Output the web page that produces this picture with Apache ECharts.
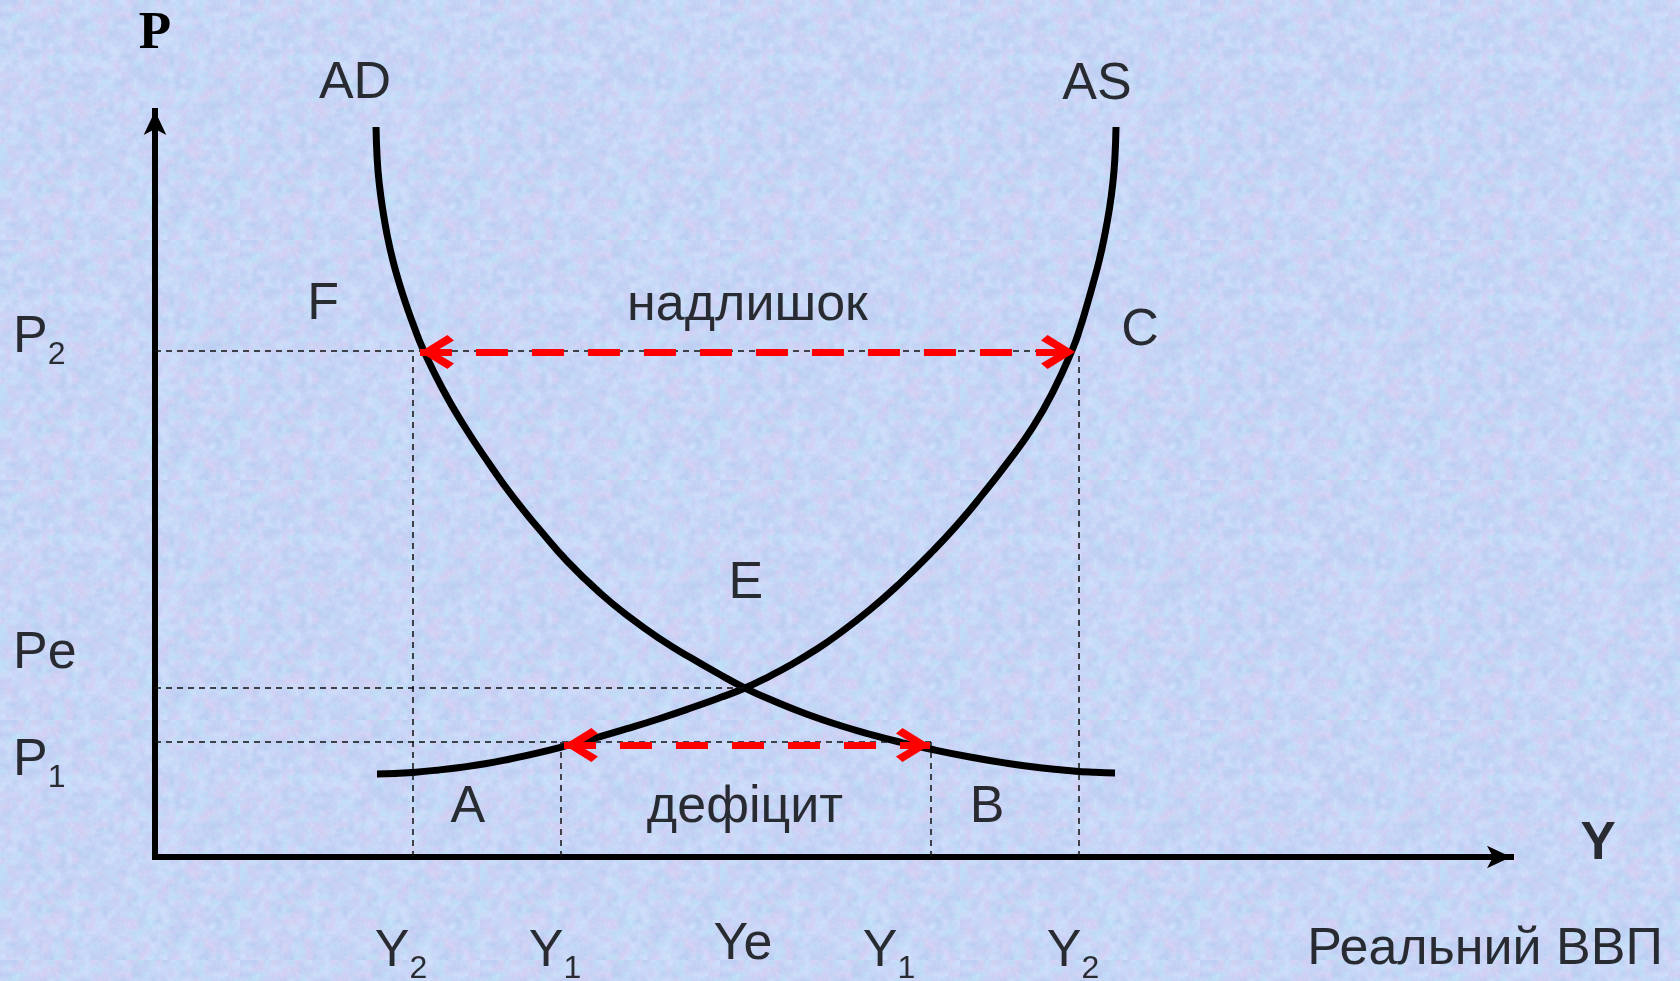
<!DOCTYPE html>
<html>
<head>
<meta charset="utf-8">
<title>AD - AS</title>
<script src="https://cdn.jsdelivr.net/npm/echarts@6/dist/echarts.min.js"></script>
<style>
html, body { margin: 0; padding: 0; }
#chart { width: 1680px; height: 981px; }
</style>
</head>
<body>
<div id="chart"></div>
<script>
// both axes run 0..100 (real GDP on x, price level on y)
const adX = [16.3, 16.39, 16.55, 16.8, 17.12, 17.53, 18.03, 18.58, 19.14, 19.76, 21.17, 22.71, 24.56, 26.4, 28.39, 30.38, 32.82, 35.03, 37.24, 39.45, 41.52, 43.51, 45.72, 48.08, 50.52, 52.95, 54.94, 57.15, 60.1, 62.83, 65.27, 67.7, 69.32, 70.8];
const adY = [97.86, 93.43, 90.08, 86.73, 83.38, 80.03, 76.81, 73.73, 70.91, 68.1, 62.87, 58.04, 52.95, 48.26, 43.83, 39.68, 35.39, 32.1, 29.25, 26.76, 24.6, 22.65, 20.84, 19.13, 17.63, 16.34, 15.4, 14.48, 13.4, 12.56, 11.96, 11.53, 11.35, 11.26];
const asX = [16.37, 17.7, 19.03, 20.8, 22.49, 24.34, 26.18, 28.17, 30.09, 32.45, 34.81, 37.24, 39.68, 41.67, 43.51, 45.35, 46.83, 48.67, 50.29, 52.73, 54.94, 57.37, 59.22, 61.06, 62.91, 64.75, 66.22, 67.7, 68.22, 68.69, 69.17, 69.64, 70.04, 70.37, 70.62, 70.78, 70.87];
const asY = [11.13, 11.19, 11.34, 11.64, 12.0, 12.49, 13.14, 13.93, 14.8, 15.95, 17.2, 18.57, 20.07, 21.37, 22.65, 24.26, 25.7, 27.71, 29.72, 33.16, 36.7, 41.03, 44.65, 48.67, 52.96, 57.65, 62.35, 68.23, 70.91, 73.73, 76.81, 80.03, 83.38, 86.73, 90.08, 93.43, 97.86];

// Y2, Y1, Ye, Y1, Y2  and  P2, Pe, P1
const yTicks = [19.03, 29.94, 43.51, 57.23, 68.14];
const pTicks = [67.83, 22.65, 15.42];

// red arrows: surplus at P2, shortage at P1
const surplusX = [19.54, 67.85];
const surplusY = 67.69;
const shortageX = [30.16, 57.15];
const shortageY = 15.01;

// labels
const xLabels = ['{m|Y}{s|2}', '{m|Y}{s|1}', 'Ye', '{m|Y}{s|1}', '{m|Y}{s|2}'];
const xLabelAt = [18.14, 29.5, 43.36, 54.13, 67.7];
const xLabelY = -11.8;
const pLabels = ['{m|P}{s|2}', 'Pe', '{m|P}{s|1}'];
const pLabelAt = [70.51, 27.21, 13.81];
const pLabelX = -10.47;
const notes = ['AD', 'AS', 'F', 'надлишок', 'C', 'E', 'A', 'дефіцит', 'B', 'Реальний ВВП'];
const noteX = [14.75, 69.47, 12.39, 43.69, 72.64, 43.58, 23.08, 43.51, 61.36, 98.08];
const noteY = [103.6, 103.5, 74.0, 73.9, 70.51, 36.6, 6.57, 6.57, 6.57, -12.47];
const axisNameY = { text: 'Y', x: 106.42, y: 1.74 };

// soft blotchy paper texture for the page
function makeTexture() {
    var palette = [[184, 204, 242], [204, 218, 249], [190, 226, 247], [216, 206, 242], [198, 206, 245], [210, 226, 252], [196, 212, 244]];
    var big = document.createElement('canvas');
    big.width = big.height = 240;
    var bctx = big.getContext('2d');
    [[40, 1], [120, 0.35]].forEach(function (layer, k) {
        var n = layer[0];
        var small = document.createElement('canvas');
        small.width = small.height = n;
        var sctx = small.getContext('2d');
        for (var i = 0; i < n; i++) {
            for (var j = 0; j < n; j++) {
                var h = Math.sin(i * 12.9898 + j * 78.233 + k * 37.719) * 43758.5453;
                h -= Math.floor(h);
                var c = palette[Math.floor(h * palette.length)];
                sctx.fillStyle = 'rgb(' + c[0] + ',' + c[1] + ',' + c[2] + ')';
                sctx.fillRect(i, j, 1, 1);
            }
        }
        bctx.globalAlpha = layer[1];
        bctx.imageSmoothingEnabled = true;
        bctx.drawImage(small, 0, 0, 240, 240);
    });
    return big.toDataURL();
}

var chartDom = document.getElementById('chart');
chartDom.style.background = 'url(' + makeTexture() + ')';
var myChart = echarts.init(chartDom);

var font = 'Liberation Sans, Arial, sans-serif';
var rich = {
    m: { fontSize: 52, lineHeight: 52, verticalAlign: 'top', fontFamily: font, color: '#000' },
    s: { fontSize: 32, lineHeight: 32, padding: [34, 0, 0, 0], fontFamily: font, color: '#000' }
};

function zip(xs, ys) {
    return xs.map(function (x, i) { return [x, ys[i]]; });
}

var dash = { color: '#111', width: 1.5, type: [6, 5] };
var guides = [
    [yTicks[4], pTicks[0]], [yTicks[2], pTicks[1]], [yTicks[3], pTicks[2]]
].map(function (p) {
    return [{ coord: [0, p[1]] }, { coord: [p[0], p[1]] }];
}).concat([
    [yTicks[0], pTicks[0]], [yTicks[1], pTicks[2]], [yTicks[3], pTicks[2]], [yTicks[4], pTicks[0]]
].map(function (p) {
    return [{ coord: [p[0], 0] }, { coord: [p[0], p[1]] }];
}));

// open chevron, tip up
var chevron = 'path://M50 0L100 76L84 94L50 40L16 94L0 76Z';

var texts = [];
notes.forEach(function (t, i) {
    texts.push({ value: [noteX[i], noteY[i]], label: { formatter: t } });
});
texts.push({ value: [axisNameY.x, axisNameY.y], label: { formatter: axisNameY.text, fontWeight: 'bold', fontSize: 53 } });
xLabels.forEach(function (t, i) {
    texts.push({ value: [xLabelAt[i], xLabelY], label: { formatter: t, offset: t.indexOf('{s|') >= 0 ? [0, 7] : [0, 0] } });
});
pLabels.forEach(function (t, i) {
    texts.push({ value: [pLabelX, pLabelAt[i]], label: { formatter: t, align: 'left', offset: t.indexOf('{s|') >= 0 ? [0, 7] : [0, 0] } });
});

var option = {
    animation: false,
    backgroundColor: 'transparent',
    grid: { left: 155, right: 169, top: 111, bottom: 124 },
    xAxis: {
        type: 'value',
        min: 0,
        max: 100,
        axisLine: { show: true, symbol: ['none', 'arrow'], symbolSize: [17, 24], lineStyle: { color: '#000', width: 6, cap: 'square' } },
        axisTick: { show: false },
        axisLabel: { show: false },
        splitLine: { show: false }
    },
    yAxis: {
        type: 'value',
        min: 0,
        max: 100,
        name: 'P',
        nameLocation: 'end',
        nameGap: 50,
        nameTextStyle: { fontFamily: 'Liberation Serif, Times New Roman, serif', fontWeight: 'bold', fontSize: 53, color: '#000' },
        axisLine: { show: true, symbol: ['none', 'arrow'], symbolSize: [17, 24], lineStyle: { color: '#000', width: 6, cap: 'square' } },
        axisTick: { show: false },
        axisLabel: { show: false },
        splitLine: { show: false }
    },
    series: [
        {
            name: 'AD',
            type: 'line',
            data: zip(adX, adY),
            smooth: 0.5,
            showSymbol: false,
            silent: true,
            lineStyle: { color: '#000', width: 7 },
            markLine: {
                silent: true,
                symbol: 'none',
                label: { show: false },
                lineStyle: dash,
                data: guides
            }
        },
        {
            name: 'AS',
            type: 'line',
            data: zip(asX, asY),
            smooth: 0.5,
            showSymbol: false,
            silent: true,
            lineStyle: { color: '#000', width: 7 },
            markLine: {
                silent: true,
                symbol: [chevron, chevron],
                symbolSize: [34, 34],
                symbolOffset: [[0, 17], [0, 17]],
                label: { show: false },
                lineStyle: { color: '#ff0000', width: 7, type: [32, 24] },
                itemStyle: { color: '#ff0000' },
                data: [
                    [{ coord: [surplusX[0], surplusY] }, { coord: [surplusX[1], surplusY] }],
                    [{ coord: [shortageX[0], shortageY] }, { coord: [shortageX[1], shortageY] }]
                ]
            }
        },
        {
            name: 'labels',
            type: 'scatter',
            symbolSize: 0,
            clip: false,
            silent: true,
            label: {
                show: true,
                position: 'inside',
                fontFamily: font,
                fontSize: 52,
                color: '#000',
                rich: rich
            },
            data: texts
        }
    ]
};

option && myChart.setOption(option);
</script>
</body>
</html>
